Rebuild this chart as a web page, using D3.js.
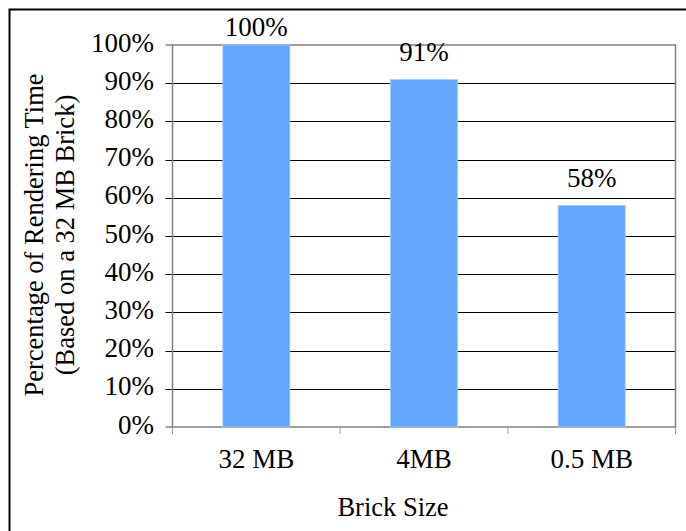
<!DOCTYPE html>
<html>
<head>
<meta charset="utf-8">
<script src="https://cdn.jsdelivr.net/npm/d3@7"></script>
<style>
  html, body { margin: 0; padding: 0; background: #fff; }
  svg { display: block; }
  text { font-family: "Liberation Serif", "Times New Roman", serif; fill: #000; }
</style>
</head>
<body>
<script>
// Relative rendering time per brick size
const categories = ["32 MB", "4MB", "0.5 MB"];
const values = [100, 91, 58];
const yTicks = [0, 10, 20, 30, 40, 50, 60, 70, 80, 90, 100];
const xTitle = "Brick Size";
const yTitleLines = ["Percentage of Rendering Time", "(Based on a 32 MB Brick)"];

const W = 686, H = 531;
const plot = { left: 172.5, right: 675.5, top: 45, bottom: 427 };

const svg = d3.select("body").append("svg")
  .attr("width", W).attr("height", H);

// Outer chart frame (runs past the right and bottom edges)
svg.append("rect")
  .attr("x", 9.5).attr("y", 9.5)
  .attr("width", 720).attr("height", 560)
  .attr("fill", "none").attr("stroke", "#000").attr("stroke-width", 2);

const x = d3.scaleBand()
  .domain(categories)
  .range([plot.left, plot.right])
  .paddingInner(0.6)
  .paddingOuter(0.3);

const y = d3.scaleLinear()
  .domain([0, 100])
  .range([plot.bottom, plot.top]);

// Horizontal gridlines with short outward tick marks
svg.append("g")
  .selectAll("line")
  .data(yTicks.filter(t => t > 0 && t < 100))
  .join("line")
  .attr("x1", plot.left - 7).attr("x2", plot.right)
  .attr("y1", d => Math.round(y(d)) + 0.5).attr("y2", d => Math.round(y(d)) + 0.5)
  .attr("stroke", "#000").attr("stroke-width", 1.2);

// Plot-area border
svg.append("rect")
  .attr("x", plot.left).attr("y", plot.top)
  .attr("width", plot.right - plot.left).attr("height", plot.bottom - plot.top)
  .attr("fill", "none").attr("stroke", "#808080").attr("stroke-width", 1.5);

// Left axis ticks at 0% and 100%
svg.append("g")
  .selectAll("line")
  .data([0, 100])
  .join("line")
  .attr("x1", plot.left - 7).attr("x2", plot.left)
  .attr("y1", d => y(d)).attr("y2", d => y(d))
  .attr("stroke", "#808080").attr("stroke-width", 1.5);

// Category boundary ticks below the x axis
const step = x.step();
const boundaries = d3.range(categories.length + 1).map(i => plot.left + i * step);
svg.append("g")
  .selectAll("line")
  .data(boundaries)
  .join("line")
  .attr("x1", d => d).attr("x2", d => d)
  .attr("y1", plot.bottom).attr("y2", plot.bottom + 7)
  .attr("stroke", "#a0a0a0").attr("stroke-width", 1);

// Bars
svg.append("g")
  .selectAll("rect")
  .data(values)
  .join("rect")
  .attr("x", (d, i) => x(categories[i]))
  .attr("y", d => y(d))
  .attr("width", x.bandwidth())
  .attr("height", d => y(0) - y(d))
  .attr("fill", "#62a6ff")
  .attr("stroke", "#a9ccff")
  .attr("stroke-width", 0.8);

// Value labels above bars (kept inside the chart area)
svg.append("g")
  .selectAll("text")
  .data(values)
  .join("text")
  .attr("x", (d, i) => x(categories[i]) + x.bandwidth() / 2)
  .attr("y", d => Math.max(y(d) - 18.5, 36))
  .attr("text-anchor", "middle")
  .attr("font-size", 27)
  .text(d => d + "%");

// Y tick labels
svg.append("g")
  .selectAll("text")
  .data(yTicks)
  .join("text")
  .attr("x", 154)
  .attr("y", d => y(d) + 6.5)
  .attr("text-anchor", "end")
  .attr("font-size", 27)
  .text(d => d + "%");

// X category labels
svg.append("g")
  .selectAll("text")
  .data(categories)
  .join("text")
  .attr("x", d => x(d) + x.bandwidth() / 2)
  .attr("y", 468)
  .attr("text-anchor", "middle")
  .attr("font-size", 27)
  .text(d => d);

// X axis title
svg.append("text")
  .attr("x", 393).attr("y", 516)
  .attr("text-anchor", "middle")
  .attr("font-size", 26.5)
  .text(xTitle);

// Y axis title (two rotated lines)
const yTitle = svg.append("text")
  .attr("transform", "translate(43,235) rotate(-90)")
  .attr("text-anchor", "middle")
  .attr("font-size", 26.5);
yTitleLines.forEach((line, i) => {
  yTitle.append("tspan")
    .attr("x", 0)
    .attr("y", i * 31)
    .text(line);
});
</script>
</body>
</html>
